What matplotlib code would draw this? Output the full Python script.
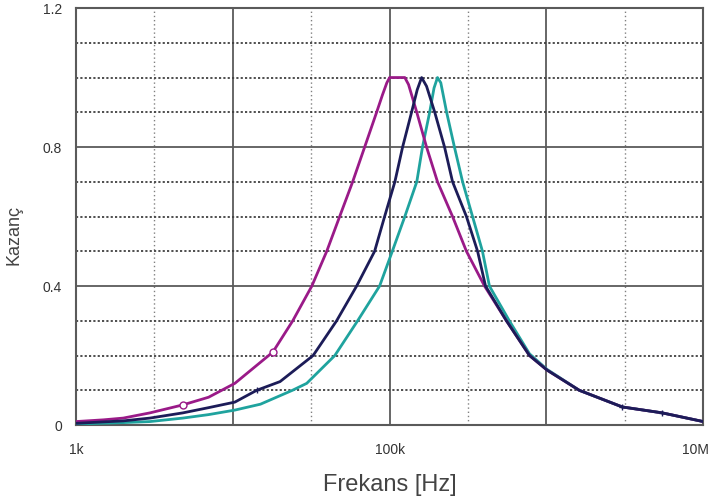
import matplotlib
matplotlib.use("Agg")
import matplotlib.pyplot as plt
import matplotlib.transforms as mtransforms
from matplotlib.ticker import FixedLocator, FixedFormatter, NullFormatter

# Frequency [Hz] and gain
magenta_f = [1e3, 1.5e3, 2e3, 2.96e3, 4.8e3, 7e3, 10.3e3, 18e3, 24.1e3, 31.9e3,
             39.7e3, 48e3, 58.1e3, 69.3e3, 82.6e3, 90e3, 96e3, 100e3, 112e3, 125e3,
             132e3, 149e3, 172e3, 202e3, 252e3, 309e3, 403e3, 556e3, 780e3,
             1.01e6, 1.62e6, 3.05e6, 5.48e6, 10e6]
magenta_g = [0.01, 0.015, 0.02, 0.035, 0.058, 0.08, 0.12, 0.21, 0.30, 0.40,
             0.50, 0.60, 0.70, 0.80, 0.90, 0.95, 0.985, 1.0, 1.0, 1.0,
             0.98, 0.90, 0.80, 0.70, 0.60, 0.50, 0.40, 0.30, 0.20,
             0.158, 0.10, 0.052, 0.035, 0.01]

navy_f = [1e3, 2e3, 2.96e3, 4.8e3, 7e3, 10.3e3, 14.2e3, 20e3, 32.5e3, 45.9e3,
          61.6e3, 80.2e3, 92.9e3, 108e3, 121e3, 138e3, 150e3, 160e3, 172e3,
          194e3, 224e3, 252e3, 309e3, 364e3, 409e3, 556e3, 780e3, 1.01e6,
          1.62e6, 3.05e6, 5.48e6, 10e6]
navy_g = [0.005, 0.012, 0.02, 0.035, 0.05, 0.066, 0.10, 0.125, 0.20, 0.30,
          0.40, 0.50, 0.60, 0.70, 0.80, 0.90, 0.965, 1.0, 0.975,
          0.90, 0.80, 0.70, 0.60, 0.50, 0.40, 0.30, 0.20, 0.158,
          0.10, 0.052, 0.035, 0.01]

teal_f = [1e3, 2e3, 2.96e3, 4.8e3, 7e3, 10.3e3, 15e3, 24e3, 29.6e3, 44.7e3,
          62.5e3, 86.3e3, 104e3, 125e3, 149e3, 162e3, 180e3, 192e3, 202e3,
          212e3, 231e3, 259e3, 292e3, 338e3, 391e3, 433e3, 580e3, 780e3,
          1.01e6, 1.62e6, 3.05e6, 5.48e6, 10e6]
teal_g = [0.003, 0.007, 0.01, 0.02, 0.03, 0.043, 0.06, 0.10, 0.12, 0.20,
          0.30, 0.40, 0.50, 0.60, 0.70, 0.80, 0.90, 0.97, 1.0,
          0.985, 0.90, 0.80, 0.70, 0.60, 0.50, 0.40, 0.30, 0.205,
          0.16, 0.10, 0.052, 0.035, 0.01]

x_ticks = [1e3, 1e4, 1e5, 1e6, 1e7]
x_ticklabels = ["1k", "", "100k", "", "10M"]
y_ticks = [0, 0.4, 0.8, 1.2]
y_ticklabels = ["0", "0.4", "0.8", "1.2"]

plt.rcParams['font.family'] = ['Liberation Sans', 'DejaVu Sans']

fig = plt.figure(figsize=(7.11, 5.03), dpi=100)
ax = fig.add_axes([0.107, 0.155, 0.882, 0.829])

ax.plot(teal_f, teal_g, color='#1fa39e', lw=2.0, zorder=3)
ax.plot(magenta_f, magenta_g, color='#9a1a88', lw=2.0, zorder=4,
        marker='o', markevery=[4, 7], ms=5, mfc='white', mec='#9a1a88')
ax.plot(navy_f, navy_g, color='#1c1c58', lw=2.0, zorder=5,
        marker='+', markevery=[6, 29, 30], ms=5, mec='#1c1c58')

ax.set_xscale('log')
ax.set_xlim(1e3, 1e7)
ax.set_ylim(0, 1.2)

ax.xaxis.set_major_locator(FixedLocator(x_ticks))
ax.xaxis.set_major_formatter(FixedFormatter(x_ticklabels))
ax.xaxis.set_minor_locator(FixedLocator([10 ** 3.5, 10 ** 4.5, 10 ** 5.5, 10 ** 6.5]))
ax.xaxis.set_minor_formatter(NullFormatter())
ax.yaxis.set_major_locator(FixedLocator(y_ticks))
ax.yaxis.set_major_formatter(FixedFormatter(y_ticklabels))
ax.yaxis.set_minor_locator(FixedLocator([0.1, 0.2, 0.3, 0.5, 0.6, 0.7, 0.9, 1.0, 1.1]))

ax.grid(which='major', color='#5a5a5a', lw=1.3, ls='-')
ax.grid(which='minor', axis='y', color='#404040', lw=1.3, ls=(0, (1.2, 1.2)))
ax.grid(which='minor', axis='x', color='#808080', lw=1.0, ls=(0, (1, 2)))
ax.set_axisbelow(True)

ax.tick_params(which='both', length=0)
ax.tick_params(axis='x', labelsize=10, pad=13, colors='#333333')
ax.tick_params(axis='y', labelsize=10, pad=10, colors='#333333')

# the last x label sits on the right edge; nudge it inside the figure
fig.canvas.draw()
last = ax.get_xticklabels()[-1]
last.set_transform(last.get_transform() +
                   mtransforms.ScaledTranslation(-8 / 100, 0, fig.dpi_scale_trans))

for s in ax.spines.values():
    s.set_color('#5a5a5a')
    s.set_linewidth(1.5)

ax.set_xlabel('Frekans [Hz]', fontsize=17, color='#444444', labelpad=12)
ax.set_ylabel('Kazanç', fontsize=13, color='#444444')
ax.yaxis.set_label_coords(-0.086, 0.456)

plt.savefig('out.png', dpi=100)
plt.close()
